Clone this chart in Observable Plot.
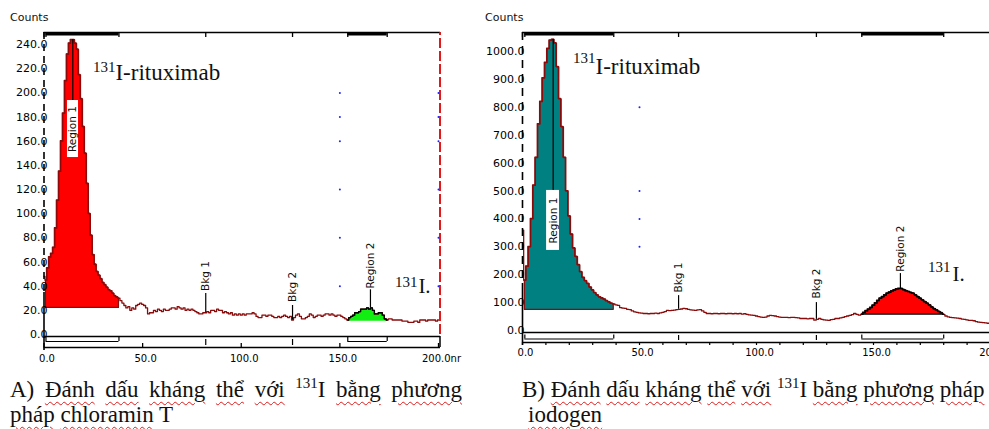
<!DOCTYPE html>
<html><head><meta charset="utf-8">
<script src="https://cdn.jsdelivr.net/npm/d3@7"></script>
<script src="https://cdn.jsdelivr.net/npm/@observablehq/plot@0.6"></script>
<style>
html,body{margin:0;padding:0;background:#fff;width:989px;height:429px;overflow:hidden;position:relative}
.panel{position:absolute;top:0}
.counts{position:absolute;top:11px;font:11px/13px "DejaVu Sans";color:#111}
.cap{position:absolute;top:378px;font-family:"Liberation Serif";font-size:23px;line-height:24.5px;color:#111}
.cap u{text-decoration:underline wavy #e01b1b;text-decoration-thickness:1px;text-underline-offset:4px}
.cap sup{font-size:15px;vertical-align:0;position:relative;top:-9px;line-height:0}
</style></head><body>
<div class="panel" id="pa" style="left:0;width:480px"></div>
<div class="panel" id="pb" style="left:480px;width:520px"></div>
<div class="counts" style="left:10px">Counts</div>
<div class="counts" style="left:485px">Counts</div>
<div class="cap" style="left:10px;width:452px;text-align:justify">A) <u>Đánh</u> <u>dấu</u> <u>kháng</u> <u>thể</u> <u>với</u> <sup>131</sup>I <u>bằng</u> <u>phương</u> <u>pháp</u> <u>chloramin</u> T</div>
<div class="cap" style="left:522px;width:466px;padding-left:6px;text-indent:-6px">B) <u>Đánh</u> <u>dấu</u> <u>kháng</u> <u>thể</u> <u>với</u> <sup>131</sup>I <u>bằng</u> <u>phương</u> <u>pháp</u> <u>iodogen</u></div>
<script>
// ---- data: counts per time channel (0..200), panel A (chloramin T) ----
const countsA = [
 48,45,55,64,67,72,88,111,135,160,
 183,210,232,241,244,244,241,236,215,195,
 172,150,125,100,82,66,58,52,49,46,
 43,41,39,37,36,34,32,31,30,28,
 26,24,22,23,20,22,21,24,25,26,
 25,24,22,17,18,18,20,19,21,20,
 19,21,20,20,21,22,22,21,23,22,
 21,22,20,21,20,21,20,19,18,17,
 17,18,18,19,18,20,20,19,21,20,
 20,18,19,18,17,18,16,17,16,17,
 16,17,16,17,17,17,18,17,15,14,
 14,16,16,15,16,16,15,14,14,15,
 14,15,16,15,14,15,12,14,16,17,
 15,13,13,14,15,17,16,14,15,16,
 16,15,16,17,17,16,17,16,15,16,
 16,15,14,13,12,14,15,16,18,18,
 19,21,21,21,22,21,22,20,17,17,
 18,18,16,13,12,13,13,12,12,12,
 12,12,11,11,11,10,10,10,11,11,
 10,12,12,12,11,12,12,12,12,11,
 12];
// ---- panel B (iodogen) ----
const countsB = [
 360,180,230,300,400,520,620,740,820,905,
 960,1010,1040,1043,1030,945,830,730,620,500,
 410,345,295,265,235,210,190,178,168,155,
 145,135,127,120,116,112,106,102,97,95,
 92,90,82,80,79,76,75,70,67,65,
 63,62,61,61,60,61,61,62,61,63,
 65,68,72,71,72,73,75,76,77,79,
 78,76,74,73,72,74,75,70,65,61,
 61,60,61,61,60,61,61,60,61,61,
 60,61,60,61,59,60,58,56,55,54,
 52,50,48,47,48,52,54,53,52,50,
 48,47,47,47,46,47,47,46,45,43,
 43,43,42,43,43,37,40,43,40,38,
 37,36,39,40,43,43,45,47,50,52,
 54,57,61,58,55,58,64,70,76,82,
 90,98,107,115,121,127,133,137,141,145,
 148,150,150,146,142,139,136,133,127,121,
 115,109,103,97,91,84,78,73,68,63,
 58,52,49,47,46,45,44,43,41,40,
 38,36,36,35,32,30,29,28,27,26,
 25];
const regionsA = [{name: "Region 1", x1: 1, x2: 38, base: 22}, {name: "Region 2", x1: 154, x2: 174, base: 11}];
const regionsB = [{name: "Region 1", x1: 1, x2: 39, base: 74}, {name: "Region 2", x1: 145, x2: 180, base: 57}];
const bkgA = [{name: "Bkg 1", x: 82}, {name: "Bkg 2", x: 126}];
const bkgB = [{name: "Bkg 1", x: 66.7}, {name: "Bkg 2", x: 125.6}];
const yTicksA = [0, 20, 40, 60, 80, 100, 120, 140, 160, 180, 200, 220, 240];
const yTicksB = [0, 100, 200, 300, 400, 500, 600, 700, 800, 900, 1000];
const xTicks = [0, 50, 100, 150, 200];
const xMinorB = [0,10,20,30,40,50,60,70,80,90,100,110,120,130,140,150,160,170,180,190,200];
const dotXA = [150, 200], dotYA = [200, 180, 160, 120, 80, 40];
const dotXB = [50, 200], dotYB = [800, 500, 400, 300];

// ---- annotation placement (data coordinates) ----
const layoutA = {
  r1: {x: 14.6, x1: 11.9, x2: 17.5, y1: 146.5, y2: 193.7, y: 170},
  labels: [
    {text: "Bkg 1", x: 82, yLine: 34, yText: 36},
    {text: "Bkg 2", x: 126, yLine: 24, yText: 27},
    {text: "Region 2", x: 165.5, yLine: 37, yText: 38}
  ],
  sup: [{t: "131", x: 36.2, y: 217}, {t: "131", x: 189.4, y: 39}],
  title: [{t: "I-rituximab", x: 36.2, y: 210.3}],
  iod: [{t: "I.", x: 189.8, y: 34}]
};
const layoutB = {
  r1: {x: 13.1, x1: 10.3, x2: 15.8, y1: 287, y2: 502, y: 394},
  labels: [
    {text: "Bkg 1", x: 66.7, yLine: 125, yText: 136},
    {text: "Bkg 2", x: 125.6, yLine: 100, yText: 115},
    {text: "Region 2", x: 161.5, yLine: 204, yText: 211}
  ],
  sup: [{t: "131", x: 31.2, y: 957}, {t: "131", x: 182.9, y: 208}],
  title: [{t: "I-rituximab", x: 31.2, y: 921}],
  iod: [{t: "I.", x: 183.8, y: 179}]
};

const LINE = "#8b0a0a";
const fmt1 = d => d.toFixed(1);
const H = 372;

function panel(o) {
  const rows = o.counts.map((c, t) => ({t, c}));
  const sub = r => rows.filter(d => d.t >= r.x1 && d.t <= r.x2);
  const ft = 32, fb = o.fb, fh = fb - ft;
  const bounds = o.regions.flatMap(r => [r.x1, r.x2]);
  const bx = o.bkg.map(b => b.x);
  const at = x => o.counts[Math.round(x)];
  const L = o.layout;
  const bracketY = o.y0px + o.dyBracket;
  const serif = "Liberation Serif";
  const marks = [
    ...o.regions.map((r, i) => Plot.areaY(sub(r), {x: "t", y1: r.base, y2: "c", curve: "step",
      fill: o.fills[i], stroke: o.edges[i], strokeWidth: o.edges[i] ? 1.2 : 0})),
    Plot.lineY(rows, {x: "t", y: "c", curve: "step", stroke: LINE, strokeWidth: 1.3}),
    Plot.lineY(sub(o.regions[1]), {x: "t", y: "c", curve: "step", stroke: "#000", strokeWidth: 1.3}),
    Plot.dot(d3.cross(o.dotX, o.dotY), {x: d => d[0], y: d => d[1], r: 1, fill: "#2020ff", stroke: null}),
    // y axis line (dashed upper, solid lower)
    Plot.ruleX([0], {insetBottom: fb - o.dashEnd, strokeDasharray: o.dash, strokeWidth: 1.6}),
    Plot.ruleX([0], {insetTop: o.dashEnd - ft, insetBottom: -3, strokeWidth: 1.6}),
    // top frame with region/background markers
    Plot.ruleY([o.yTop], {strokeWidth: 1.5}),
    Plot.ruleY(o.regions, {y: () => o.yTop, x1: "x1", x2: "x2", strokeWidth: 3, dy: 1.5}),
    Plot.ruleX([0, ...bounds, ...bx], {insetBottom: fh - 5, strokeWidth: 1.3}),
    // right edge
    Plot.ruleX([200], {y1: 0, y2: o.yTop, dx: 1.5, stroke: "#e00000", strokeDasharray: "10,3", strokeWidth: 1.8}),
    Plot.ruleX([200], {insetTop: o.y0px + o.dyBase - ft, dx: 1.5, strokeWidth: 1.5}),
    // bottom band
    Plot.ruleY([0], {dy: o.dyBase, strokeWidth: 1.5}),
    Plot.ruleY([0], {dy: o.dyBottom, strokeWidth: 1.5}),
    Plot.ruleY(o.regions, {y: () => 0, x1: "x1", x2: "x2", dy: o.dyBracket, strokeWidth: 1.2}),
    Plot.ruleX(bounds, {insetTop: bracketY - 4 - ft, insetBottom: fb - bracketY, strokeWidth: 1.2}),
    Plot.ruleX(bx, {insetTop: o.y0px + o.dyBase + 3 - ft, insetBottom: 2, strokeWidth: 1.2}),
    // axes
    Plot.axisY(o.yTicks, {tickSize: 0, tickPadding: o.yPad, tickFormat: fmt1, fontSize: 11}),
    ...o.extraAxes,
    Plot.axisX(xTicks, {tickSize: 0, tickPadding: o.xPad, dx: 3, tickFormat: o.xFormat, fontSize: 10}),
    // marker labels
    Plot.ruleX(L.labels, {x: "x", y1: d => at(d.x), y2: "yLine", strokeWidth: 1.2}),
    Plot.text(L.labels, {x: "x", y: "yText", text: "text", rotate: -90, textAnchor: "start", fontSize: 10.5, fill: "#111"}),
    Plot.ruleX([L.r1], {x: "x", y1: d3.max(o.counts), y2: "y2", strokeWidth: 1.2}),
    Plot.rect([L.r1], {x1: "x1", x2: "x2", y1: "y1", y2: "y2", fill: "white"}),
    Plot.text([L.r1], {x: "x", y: "y", text: () => o.regions[0].name, rotate: -90, fontSize: 10.5, fill: "#111"}),
    // annotations
    Plot.text(L.sup, {x: "x", y: "y", text: "t", textAnchor: "end", lineAnchor: "bottom", fontFamily: serif, fontSize: 15, fill: "#111"}),
    Plot.text(L.title, {x: "x", y: "y", text: "t", textAnchor: "start", lineAnchor: "bottom", fontFamily: serif, fontSize: 23, fill: "#111"}),
    Plot.text(L.iod, {x: "x", y: "y", text: "t", textAnchor: "start", lineAnchor: "bottom", fontFamily: serif, fontSize: 21, fill: "#111"})
  ];
  return Plot.plot({
    width: o.width, height: H,
    marginTop: ft, marginBottom: H - fb, marginLeft: o.x0px, marginRight: o.width - o.rightPx,
    x: {domain: [0, 200], range: [o.x0px, o.x200px]},
    y: {domain: [0, o.yTop], range: [o.y0px, ft]},
    style: {fontFamily: "DejaVu Sans", fontSize: "10px", background: "white", color: "#000", maxWidth: "none"},
    marks
  });
}

document.getElementById("pa").append(panel({
  counts: countsA, regions: regionsA, bkg: bkgA, layout: layoutA,
  fills: ["#ff0000", "#12ee12"], edges: [LINE, null],
  dotX: dotXA, dotY: dotYA, yTicks: yTicksA,
  width: 480, fb: 347, y0px: 334, x0px: 43.5, x200px: 438, rightPx: 440, yTop: 250,
  dyBase: 2, dyBracket: 7, dyBottom: 13, dashEnd: 292, dash: "7,5", yPad: -3.5, xPad: 7,
  xFormat: d => d === 200 ? "200.0nr" : fmt1(d), extraAxes: [
    Plot.ruleX(xTicks, {insetTop: 311, strokeWidth: 1.3})
  ]
}));
document.getElementById("pb").append(panel({
  counts: countsB, regions: regionsB, bkg: bkgB, layout: layoutB,
  fills: ["#008080", "#ff0000"], edges: [LINE, "#000"],
  dotX: dotXB, dotY: dotYB, yTicks: yTicksB,
  width: 520, fb: 342, y0px: 330, x0px: 42, x200px: 510, rightPx: 520, yTop: 1068,
  dyBase: 2, dyBracket: 8.5, dyBottom: 12, dashEnd: 283, dash: "8,6", yPad: -2, xPad: 6,
  xFormat: fmt1, extraAxes: [
    Plot.axisX(xMinorB, {tickSize: 3, tickFormat: () => "", strokeWidth: 1.2})
  ]
}));
</script>
</body></html>
